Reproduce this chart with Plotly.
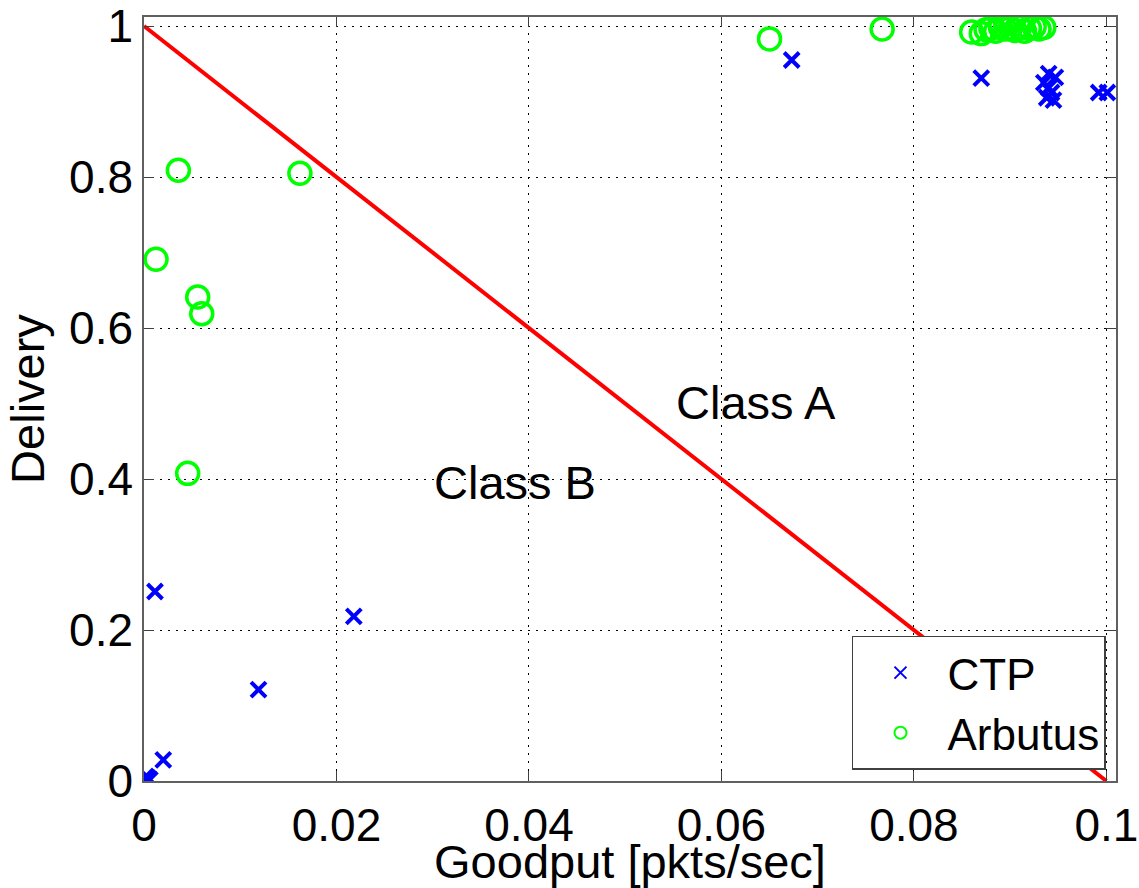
import plotly.graph_objects as go

ctp_x = [0.0673, 0.0870, 0.0940, 0.0947, 0.0935, 0.0940, 0.0943, 0.0938, 0.0945, 0.0992, 0.1001,
         0.00114, 0.0218, 0.0119, 0.0020, 0.0002, 0.0006, 0.0004]
ctp_y = [0.955, 0.931, 0.937, 0.932, 0.925, 0.918, 0.912, 0.905, 0.902, 0.912, 0.912,
         0.251, 0.218, 0.121, 0.028, 0.006, 0.002, 0.004]

arb_x = [0.0650, 0.0767, 0.0860, 0.0870, 0.0875, 0.0880, 0.0885, 0.0890, 0.0895, 0.0900,
         0.0905, 0.0910, 0.0915, 0.0920, 0.0925, 0.0930, 0.0935,
         0.00357, 0.0162, 0.00125, 0.00558, 0.0060, 0.00454]
arb_y = [0.983, 0.996, 0.992, 0.990, 0.995, 0.997, 0.993, 0.998, 0.996, 0.997,
         0.994, 0.998, 0.993, 0.997, 0.999, 0.996, 0.998,
         0.809, 0.805, 0.691, 0.641, 0.619, 0.4075]

line_x = [0.0, 0.1]
line_y = [1.0, 0.0]

labels_text = ["Class A", "Class B"]
labels_x = [0.0636, 0.0386]
labels_y = [0.502, 0.395]

x_ticks = [0, 0.02, 0.04, 0.06, 0.08, 0.1]
x_tick_text = ["0", "0.02", "0.04", "0.06", "0.08", "0.1"]
y_ticks = [0, 0.2, 0.4, 0.6, 0.8, 1.0]
y_tick_text = ["0", "0.2", "0.4", "0.6", "0.8", "1"]

FONT = "Liberation Sans, Arial, sans-serif"

fig = go.Figure()
fig.add_trace(go.Scatter(x=line_x, y=line_y, mode="lines",
                         line=dict(color="#ff0000", width=4), showlegend=False))
fig.add_trace(go.Scatter(x=ctp_x, y=ctp_y, mode="markers", name="CTP",
                         marker=dict(symbol="x-thin", size=15, color="#0000ff",
                                     line=dict(color="#0000ff", width=4))))
fig.add_trace(go.Scatter(x=arb_x, y=arb_y, mode="markers", name="Arbutus",
                         marker=dict(symbol="circle-open", size=22, color="#00ff00",
                                     line=dict(color="#00ff00", width=3.5))))
for t, x, y in zip(labels_text, labels_x, labels_y):
    fig.add_annotation(x=x, y=y, text=t, showarrow=False,
                       font=dict(family=FONT, size=47, color="black"))

axis_common = dict(showgrid=True, gridcolor="black", griddash="2px,6px", gridwidth=1,
                   showline=True, linecolor="#606060", linewidth=1.5, mirror="allticks",
                   ticks="inside", ticklen=10, tickcolor="#404040", zeroline=False,
                   automargin=False, ticklabeloverflow="allow",
                   tickfont=dict(family=FONT, size=46, color="black"))

fig.update_xaxes(range=[0, 0.101], tickvals=x_ticks, ticktext=x_tick_text,
                 ticklabelstandoff=3,
                 title=dict(text="Goodput [pkts/sec]", font=dict(family=FONT, size=47, color="black"),
                            standoff=0), **axis_common)
fig.update_yaxes(range=[0, 1.012], tickvals=y_ticks, ticktext=y_tick_text,
                 title=dict(text="Delivery", font=dict(family=FONT, size=47, color="black"),
                            standoff=10), **axis_common)

fig.update_layout(
    width=1139, height=888,
    margin=dict(l=144, r=23, t=17, b=107, autoexpand=False),
    plot_bgcolor="white", paper_bgcolor="white",
    legend=dict(x=0.9897, y=0.0144, xanchor="right", yanchor="bottom",
                bgcolor="white", bordercolor="#404040", borderwidth=1.5,
                font=dict(family=FONT, size=44, color="black"),
                itemsizing="constant", itemwidth=84),
)

fig.write_html("out.html", config={"displayModeBar": False},
               post_script="document.body.style.margin='0';document.body.style.overflow='hidden';")
